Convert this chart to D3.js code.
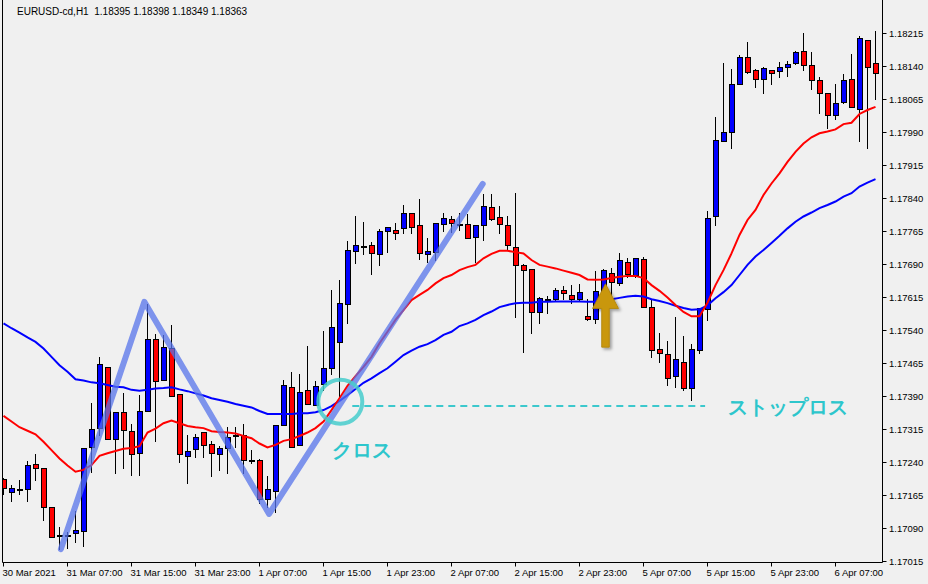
<!DOCTYPE html>
<html><head><meta charset="utf-8">
<script src="https://cdn.jsdelivr.net/npm/d3@7"></script>
<style>
body{margin:0;background:#f0f0f0;}
svg{display:block;}
text{font-family:"Liberation Sans",Arial,sans-serif;}
</style>
</head><body><svg id="c" width="928" height="584"></svg>
<script>
// ---- DATA (hourly EURUSD) ----
const openP=[1.17201,1.17172,1.17179,1.17178,1.17235,1.17226,1.17137,1.17073,1.17074,1.17078,
1.17084,1.17273,1.17317,1.17457,1.17292,1.17354,1.17311,1.17260,1.17355,1.17519,
1.17426,1.17498,1.17394,1.17254,1.17269,1.17308,1.17280,1.17259,1.17271,1.17301,
1.17301,1.17245,1.17244,1.17155,1.17173,1.17323,1.17411,1.17278,1.17403,1.17370,
1.17417,1.17453,1.17513,1.17598,1.17720,1.17732,1.17733,1.17712,1.17764,1.17767,
1.17771,1.17805,1.17779,1.17712,1.17717,1.17780,1.17792,1.17782,1.17780,1.17752,
1.17779,1.17819,1.17796,1.17779,1.17729,1.17688,1.17678,1.17580,1.17611,1.17611,
1.17630,1.17619,1.17611,1.17572,1.17564,1.17627,1.17669,1.17646,1.17695,1.17665,
1.17701,1.17593,1.17496,1.17485,1.17435,1.17467,1.17408,1.17495,1.17587,1.17798,
1.17970,1.17991,1.18098,1.18160,1.18131,1.18110,1.18131,1.18129,1.18137,1.18146,
1.18174,1.18142,1.18108,1.18078,1.18028,1.18058,1.18110,1.18042,1.18198,1.18146];
const highP=[1.17207,1.17189,1.17201,1.17245,1.17260,1.17226,1.17137,1.17095,1.17084,1.17131,
1.17275,1.17377,1.17482,1.17457,1.17353,1.17400,1.17328,1.17395,1.17601,1.17533,
1.17531,1.17554,1.17394,1.17303,1.17305,1.17311,1.17290,1.17278,1.17322,1.17322,
1.17328,1.17269,1.17248,1.17210,1.17323,1.17428,1.17447,1.17442,1.17506,1.17426,
1.17540,1.17633,1.17656,1.17745,1.17802,1.17788,1.17742,1.17771,1.17777,1.17785,
1.17826,1.17805,1.17839,1.17751,1.17783,1.17808,1.17801,1.17809,1.17805,1.17779,
1.17851,1.17852,1.17824,1.17801,1.17854,1.17692,1.17678,1.17617,1.17619,1.17638,
1.17642,1.17645,1.17646,1.17612,1.17676,1.17681,1.17684,1.17718,1.17707,1.17707,
1.17708,1.17612,1.17536,1.17517,1.17572,1.17529,1.17510,1.17593,1.17813,1.18026,
1.18148,1.18135,1.18167,1.18197,1.18135,1.18140,1.18131,1.18152,1.18154,1.18176,
1.18218,1.18174,1.18117,1.18078,1.18101,1.18125,1.18170,1.18210,1.18198,1.18222];
const lowP=[1.17167,1.17152,1.17167,1.17152,1.17198,1.17108,1.17070,1.17042,1.17044,1.17059,
1.17048,1.17218,1.17301,1.17292,1.17216,1.17226,1.17210,1.17210,1.17355,1.17288,
1.17426,1.17389,1.17241,1.17193,1.17252,1.17252,1.17209,1.17222,1.17214,1.17275,
1.17216,1.17237,1.17146,1.17138,1.17127,1.17323,1.17275,1.17278,1.17371,1.17370,
1.17404,1.17440,1.17385,1.17557,1.17693,1.17713,1.17667,1.17688,1.17718,1.17747,
1.17760,1.17760,1.17701,1.17694,1.17699,1.17766,1.17762,1.17767,1.17748,1.17695,
1.17745,1.17790,1.17760,1.17722,1.17570,1.17491,1.17533,1.17555,1.17578,1.17608,
1.17610,1.17601,1.17608,1.17563,1.17555,1.17627,1.17616,1.17642,1.17661,1.17661,
1.17592,1.17478,1.17468,1.17415,1.17411,1.17404,1.17381,1.17487,1.17563,1.17779,
1.17970,1.17954,1.18098,1.18123,1.18093,1.18079,1.18098,1.18116,1.18117,1.18144,
1.18131,1.18088,1.18034,1.17998,1.18020,1.18055,1.18046,1.17970,1.17954,1.18066];
const closeP=[1.17180,1.17180,1.17179,1.17233,1.17226,1.17137,1.17070,1.17073,1.17074,1.17085,
1.17271,1.17314,1.17463,1.17292,1.17353,1.17313,1.17258,1.17355,1.17519,1.17423,
1.17501,1.17389,1.17258,1.17265,1.17296,1.17278,1.17261,1.17271,1.17297,1.17301,
1.17244,1.17245,1.17157,1.17178,1.17323,1.17414,1.17275,1.17398,1.17371,1.17412,
1.17453,1.17547,1.17601,1.17721,1.17733,1.17732,1.17714,1.17764,1.17773,1.17760,
1.17805,1.17773,1.17714,1.17720,1.17783,1.17794,1.17783,1.17782,1.17750,1.17779,
1.17822,1.17792,1.17780,1.17733,1.17688,1.17676,1.17580,1.17612,1.17611,1.17630,
1.17625,1.17611,1.17626,1.17566,1.17629,1.17676,1.17650,1.17699,1.17667,1.17703,
1.17592,1.17495,1.17487,1.17430,1.17473,1.17408,1.17496,1.17589,1.17794,1.17972,
1.17990,1.18098,1.18161,1.18127,1.18110,1.18135,1.18123,1.18138,1.18145,1.18171,
1.18142,1.18108,1.18078,1.18028,1.18055,1.18108,1.18046,1.18203,1.18138,1.18125];
const maRed=[1.17345,1.17332,1.17319,1.17311,1.17303,1.17286,1.17267,1.17248,1.17232,1.17218,
1.17222,1.17233,1.17254,1.17260,1.17265,1.17270,1.17272,1.17276,1.17307,1.17316,
1.17328,1.17334,1.17328,1.17322,1.17319,1.17317,1.17310,1.17308,1.17307,1.17305,
1.17299,1.17294,1.17282,1.17273,1.17279,1.17288,1.17292,1.17299,1.17307,1.17317,
1.17332,1.17358,1.17385,1.17413,1.17435,1.17456,1.17479,1.17510,1.17536,1.17563,
1.17585,1.17608,1.17620,1.17631,1.17646,1.17658,1.17665,1.17676,1.17683,1.17688,
1.17703,1.17713,1.17720,1.17720,1.17717,1.17714,1.17699,1.17688,1.17684,1.17680,
1.17675,1.17670,1.17665,1.17655,1.17654,1.17655,1.17658,1.17661,1.17663,1.17663,
1.17658,1.17642,1.17629,1.17614,1.17597,1.17581,1.17571,1.17571,1.17602,1.17642,
1.17676,1.17714,1.17756,1.17790,1.17813,1.17847,1.17873,1.17896,1.17922,1.17945,
1.17964,1.17978,1.17987,1.17991,1.17996,1.18008,1.18011,1.18031,1.18040,1.18047];
const maBlue=[1.17555,1.17544,1.17534,1.17523,1.17513,1.17498,1.17479,1.17460,1.17445,1.17428,
1.17425,1.17421,1.17419,1.17415,1.17411,1.17410,1.17404,1.17402,1.17404,1.17407,
1.17408,1.17410,1.17405,1.17401,1.17396,1.17391,1.17385,1.17381,1.17377,1.17372,
1.17368,1.17364,1.17356,1.17349,1.17349,1.17349,1.17349,1.17351,1.17351,1.17353,
1.17358,1.17367,1.17379,1.17392,1.17406,1.17420,1.17430,1.17442,1.17453,1.17468,
1.17483,1.17493,1.17502,1.17508,1.17517,1.17529,1.17536,1.17549,1.17555,1.17563,
1.17574,1.17582,1.17592,1.17597,1.17601,1.17602,1.17602,1.17604,1.17604,1.17605,
1.17605,1.17605,1.17605,1.17604,1.17604,1.17608,1.17610,1.17613,1.17616,1.17618,
1.17616,1.17610,1.17606,1.17601,1.17595,1.17590,1.17586,1.17587,1.17596,1.17612,
1.17626,1.17642,1.17665,1.17688,1.17707,1.17722,1.17738,1.17754,1.17771,1.17786,
1.17798,1.17807,1.17817,1.17824,1.17832,1.17843,1.17851,1.17866,1.17875,1.17883];
const yTickLabels=["1.17015","1.17090","1.17165","1.17240","1.17315","1.17390","1.17465","1.17540","1.17615",
"1.17690","1.17765","1.17840","1.17915","1.17990","1.18065","1.18140","1.18215"];
const xTickIndex=[0,8,16,24,32,40,48,56,64,72,80,88,96,104];
const xTickLabels=["30 Mar 2021","31 Mar 07:00","31 Mar 15:00","31 Mar 23:00","1 Apr 07:00","1 Apr 15:00",
"1 Apr 23:00","2 Apr 07:00","2 Apr 15:00","2 Apr 23:00","5 Apr 07:00","5 Apr 15:00","5 Apr 23:00","6 Apr 07:00"];
const header="EURUSD-cd,H1  1.18395 1.18398 1.18349 1.18363";
// annotations in (bar index, price)
const zigzagIdx=[7.17,17.6,33.2,59.9];
const zigzagPrice=[1.17042,1.17604,1.17122,1.17872];
const crossIdx=42.1, crossPrice=1.17377;
const stopIdx=[43.6,87.7], stopPrice=1.17367;
const noteText=["クロス","ストップロス"];
const noteIdx=[41.1,90.5];
const notePrice=[1.17251,1.17349];
const arrowIdx=75.25, arrowTip=1.17645, arrowHeadBase=1.17589, arrowTail=1.17501;

// ---- CHART ----
const svg=d3.select("#c");
const W=928,H=584;
const plotL=2.5, plotR=882.5, plotB=562.5;
const x=d3.scaleLinear().domain([0,109]).range([3.5,875.5]);
const y=d3.scaleLinear().domain([1.17015,1.18215]).range([561,33]);
const Y=v=>Math.round(y(v))+0.5;

svg.append("rect").attr("width",W).attr("height",H).attr("fill","#f0f0f0");
const defs=svg.append("defs");
defs.append("clipPath").attr("id","clip").append("rect")
  .attr("x",plotL+0.5).attr("y",0).attr("width",plotR-plotL-1).attr("height",plotB);
const blur=defs.append("filter").attr("id","soft").attr("x","-10%").attr("y","-10%").attr("width","120%").attr("height","120%");
blur.append("feGaussianBlur").attr("stdDeviation",0.7);
const sh=defs.append("filter").attr("id","shadow").attr("x","-50%").attr("y","-50%").attr("width","200%").attr("height","200%");
sh.append("feDropShadow").attr("dx",2).attr("dy",2).attr("stdDeviation",1.5).attr("flood-color","#000").attr("flood-opacity",0.35);

// frame / axes
svg.append("line").attr("x1",plotL).attr("x2",plotL).attr("y1",0).attr("y2",plotB).attr("stroke","#000");
svg.append("line").attr("x1",plotR).attr("x2",plotR).attr("y1",0).attr("y2",plotB).attr("stroke","#000");
svg.append("line").attr("x1",plotL).attr("x2",plotR).attr("y1",plotB).attr("y2",plotB).attr("stroke","#000");

const yTicks=yTickLabels.map(s=>+s);
const yax=svg.append("g");
yax.selectAll("line").data(yTicks).join("line")
  .attr("x1",plotR).attr("x2",plotR+4).attr("y1",d=>Y(d)).attr("y2",d=>Y(d)).attr("stroke","#000");
yax.selectAll("text").data(yTicks).join("text")
  .attr("x",plotR+6.5).attr("y",d=>y(d)+3.5).attr("font-size","9.5px").attr("fill","#000")
  .text((d,i)=>yTickLabels[i]);

const xax=svg.append("g");
xax.selectAll("line").data(xTickIndex).join("line")
  .attr("x1",d=>Math.round(x(d))-0.5).attr("x2",d=>Math.round(x(d))-0.5).attr("y1",plotB).attr("y2",plotB+4).attr("stroke","#000");
xax.selectAll("text").data(xTickIndex).join("text")
  .attr("x",d=>x(d)-1).attr("y",576).attr("font-size","9.5px").attr("fill","#000")
  .text((d,i)=>xTickLabels[i]);

svg.append("text").attr("x",17).attr("y",15).attr("font-size","10px").attr("fill","#000")
  .attr("xml:space","preserve").style("white-space","pre").text(header);

const plot=svg.append("g").attr("clip-path","url(#clip)");
const bars=d3.range(openP.length);
const cg=plot.append("g").attr("shape-rendering","crispEdges");
cg.selectAll("line.w").data(bars).join("line").attr("class","w")
  .attr("x1",i=>x(i)).attr("x2",i=>x(i))
  .attr("y1",i=>Y(highP[i])).attr("y2",i=>Y(lowP[i])).attr("stroke","#000");
cg.selectAll("rect").data(bars.filter(i=>openP[i]!==closeP[i])).join("rect")
  .attr("x",i=>x(i)-2.5).attr("width",5)
  .attr("y",i=>Y(Math.max(openP[i],closeP[i])))
  .attr("height",i=>Math.max(1,Y(Math.min(openP[i],closeP[i]))-Y(Math.max(openP[i],closeP[i]))))
  .attr("fill",i=>closeP[i]>openP[i]?"#0000ff":"#ff0000")
  .attr("stroke","#000");
cg.selectAll("line.d").data(bars.filter(i=>openP[i]===closeP[i])).join("line").attr("class","d")
  .attr("x1",i=>x(i)-3).attr("x2",i=>x(i)+3)
  .attr("y1",i=>Y(openP[i])).attr("y2",i=>Y(openP[i])).attr("stroke","#000").attr("stroke-width",2);

const ln=arr=>d3.line().x((d,i)=>x(i)).y(d=>y(d))(arr);
plot.append("path").attr("d",ln(maBlue)).attr("fill","none").attr("stroke","#0000ff").attr("stroke-width",2);
plot.append("path").attr("d",ln(maRed)).attr("fill","none").attr("stroke","#ff0000").attr("stroke-width",2);

// annotations
const zz=zigzagIdx.map((v,i)=>[x(v),y(zigzagPrice[i])]);
plot.append("path").attr("d",d3.line()(zz)).attr("fill","none")
  .attr("stroke","rgb(85,115,235)").attr("stroke-opacity",0.75).attr("stroke-width",6)
  .attr("stroke-linejoin","round").attr("stroke-linecap","round").attr("filter","url(#soft)");

plot.append("circle").attr("cx",x(crossIdx)).attr("cy",y(crossPrice)).attr("r",22)
  .attr("fill","none").attr("stroke","rgb(70,205,205)").attr("stroke-opacity",0.85).attr("stroke-width",4);

plot.append("line").attr("x1",x(stopIdx[0])).attr("x2",x(stopIdx[1]))
  .attr("y1",y(stopPrice)).attr("y2",y(stopPrice))
  .attr("stroke","rgb(60,200,205)").attr("stroke-width",2).attr("stroke-dasharray","7,5");

plot.selectAll("text.note").data(noteText).join("text").attr("class","note")
  .attr("x",(d,i)=>x(noteIdx[i])).attr("y",(d,i)=>y(notePrice[i]))
  .attr("font-family","'Noto Sans CJK JP',sans-serif").attr("font-size","20px").attr("font-weight",700)
  .attr("fill","rgb(45,198,204)").text(d=>d);

const ax=x(arrowIdx), aTip=y(arrowTip), aBase=y(arrowHeadBase), aTail=y(arrowTail);
const aPath=d3.path();
aPath.moveTo(ax,aTip); aPath.lineTo(ax+13,aBase); aPath.lineTo(ax+3.8,aBase);
aPath.lineTo(ax+3.8,aTail); aPath.lineTo(ax-3.8,aTail); aPath.lineTo(ax-3.8,aBase);
aPath.lineTo(ax-13,aBase); aPath.closePath();
plot.append("path").attr("d",aPath.toString()).attr("fill","rgb(201,151,12)")
  .attr("stroke","rgb(175,128,8)").attr("stroke-width",0.8).attr("filter","url(#shadow)");
</script></body></html>
